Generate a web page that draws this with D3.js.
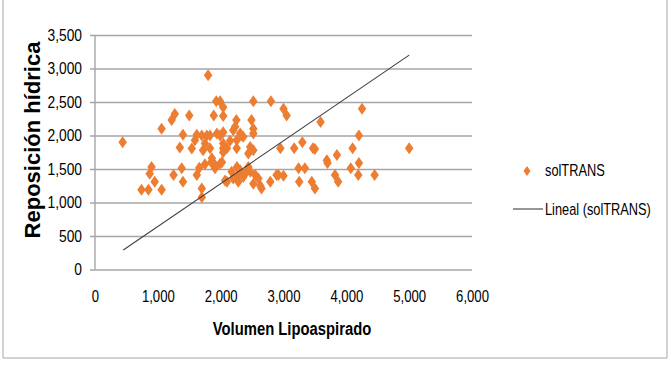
<!DOCTYPE html>
<html>
<head>
<meta charset="utf-8">
<script src="https://cdn.jsdelivr.net/npm/d3@7"></script>
<style>
  body { margin: 0; background: #fff; }
  svg { display: block; }
</style>
</head>
<body>
<div id="scatter-lipo"></div>
<script>
// values
const volumen = [440, 740, 850, 870, 900, 950, 1060, 1060, 1220, 1250, 1270, 1350, 1380, 1400, 1400,
    1500, 1540, 1590, 1620, 1620, 1660, 1700, 1700, 1700, 1720, 1750, 1750, 1780, 1800, 1830,
    1830, 1850, 1860, 1890, 1910, 1910, 1930, 1940, 1990, 1990, 1990, 2020, 2040, 2040, 2040,
    2040, 2040, 2040, 2070, 2100, 2100, 2150, 2175, 2200, 2200, 2230, 2250, 2255, 2255, 2260,
    2280, 2280, 2310, 2310, 2330, 2360, 2360, 2360, 2410, 2440, 2440, 2470, 2470, 2490, 2520,
    2520, 2520, 2520, 2520, 2550, 2600, 2650, 2630, 2790, 2800, 2890, 2920, 2950, 3000, 3000,
    3050, 3170, 3240, 3250, 3300, 3340, 3450, 3470, 3500, 3500, 3590, 3690, 3700, 3820, 3850,
    3870, 4070, 4100, 4190, 4200, 4200, 4250, 4450, 5000];
const reposicion = [1900, 1190, 1190, 1430, 1530, 1310, 1190, 2100, 2230, 1410, 2320, 1820, 1510, 1310, 2010,
    2300, 1805, 1930, 2010, 1410, 1520, 1210, 1080, 2000, 1780, 1880, 1570, 2000, 2900, 1810,
    2000, 1600, 1660, 2300, 1510, 1560, 2510, 2030, 2510, 2000, 1580, 1600, 2420, 2290, 2050,
    1880, 1810, 1750, 1330, 1310, 1810, 1920, 1460, 2080, 1360, 2130, 2230, 1930, 1810, 1530,
    1410, 1310, 2030, 1480, 2000, 1980, 1410, 1380, 1460, 1730, 1530, 1830, 1460, 2230, 2510,
    2100, 2030, 1780, 1280, 1410, 1360, 1210, 1250, 1310, 2510, 1410, 1410, 1810, 2400, 1400,
    2300, 1810, 1510, 1310, 1900, 1510, 1310, 1810, 1210, 1800, 2200, 1630, 1590, 1410, 1710,
    1310, 1510, 1810, 1410, 2000, 1590, 2400, 1410, 1810];
// trend line ends (Lineal)
const trendX = [450, 5000];
const trendY = [290, 3200];
const xTicks = [0, 1000, 2000, 3000, 4000, 5000, 6000];
const yTicks = [0, 500, 1000, 1500, 2000, 2500, 3000, 3500];
const seriesName = "solTRANS";
const trendName = "Lineal (solTRANS)";

const W = 671, H = 370;
const margin = { top: 35, left: 95 },
    width = 377,
    height = 234.5;
const orange = "#ED7D31";
const font = "'Liberation Sans', Arial, sans-serif";

// the original uses a condensed face, so squeeze the glyphs horizontally
function squeeze(sel, factor) {
    sel.each(function() {
        const len = this.getComputedTextLength();
        d3.select(this)
            .attr("textLength", len * factor)
            .attr("lengthAdjust", "spacingAndGlyphs");
    });
}

const root = d3.select("#scatter-lipo")
    .append("svg")
    .attr("width", W)
    .attr("height", H);

// outer frame (top is cut off in the picture)
root.append("path")
    .attr("d", `M3,0 V358 H667 V0`)
    .attr("fill", "none")
    .attr("stroke", "#a6a6a6")
    .attr("stroke-width", 1);

const svg = root.append("g")
    .attr("transform", `translate(${margin.left},${margin.top})`);

const x = d3.scaleLinear().domain([0, 6000]).range([0, width]);
const y = d3.scaleLinear().domain([0, 3500]).range([height, 0]);

// y axis + gridlines
const yAxis = svg.append("g")
    .call(d3.axisLeft(y).tickValues(yTicks).tickSize(-width).tickPadding(13)
        .tickFormat(d3.format(",")));
yAxis.select(".domain").remove();
yAxis.selectAll("line")
    .attr("x1", -5)
    .attr("stroke", "#a6a6a6")
    .attr("stroke-width", 1.4);
yAxis.selectAll("text")
    .style("font-family", font)
    .style("font-size", "16px")
    .attr("fill", "#000")
    .call(squeeze, 0.86);

// left axis line
svg.append("line")
    .attr("x1", 0).attr("x2", 0)
    .attr("y1", 0).attr("y2", height)
    .attr("stroke", "#a6a6a6")
    .attr("stroke-width", 1.4);

// x axis labels
const xAxis = svg.append("g")
    .attr("transform", `translate(0, ${height})`)
    .call(d3.axisBottom(x).tickValues(xTicks).tickSize(0).tickPadding(21)
        .tickFormat(d3.format(",")));
xAxis.select(".domain").remove();
xAxis.selectAll("text")
    .style("font-family", font)
    .style("font-size", "16px")
    .attr("fill", "#000")
    .call(squeeze, 0.82);

// points
const diamond = (cx, cy, w, h) =>
    `M${cx},${cy - h / 2} L${cx + w / 2},${cy} L${cx},${cy + h / 2} L${cx - w / 2},${cy} Z`;

svg.append("g")
    .selectAll("path")
    .data(volumen.map((v, i) => [v, reposicion[i]]))
    .join("path")
    .attr("d", d => diamond(x(d[0]), y(d[1]), 8.5, 12))
    .attr("fill", orange);

// trend line
svg.append("line")
    .attr("x1", x(trendX[0])).attr("y1", y(trendY[0]))
    .attr("x2", x(trendX[1])).attr("y2", y(trendY[1]))
    .attr("stroke", "#404040")
    .attr("stroke-width", 1.1);

// axis titles
root.append("text")
    .attr("transform", "translate(40,140) rotate(-90)")
    .attr("text-anchor", "middle")
    .style("font-family", font)
    .style("font-weight", "bold")
    .style("font-size", "22px")
    .text("Reposición hídrica");

root.append("text")
    .attr("transform", "translate(292,335) scale(0.78,1)")
    .attr("text-anchor", "middle")
    .style("font-family", font)
    .style("font-weight", "bold")
    .style("font-size", "19px")
    .text("Volumen Lipoaspirado");

// legend
const legend = root.append("g");
legend.append("path")
    .attr("d", diamond(527, 171, 7, 10))
    .attr("fill", orange);
legend.append("text")
    .attr("transform", "translate(545,176) scale(0.8,1)")
    .style("font-family", font)
    .style("font-size", "16px")
    .text(seriesName);
legend.append("line")
    .attr("x1", 513).attr("x2", 543)
    .attr("y1", 209).attr("y2", 209)
    .attr("stroke", "#404040")
    .attr("stroke-width", 1.1);
legend.append("text")
    .attr("transform", "translate(545,215) scale(0.8,1)")
    .style("font-family", font)
    .style("font-size", "16px")
    .text(trendName);
</script>
</body>
</html>
